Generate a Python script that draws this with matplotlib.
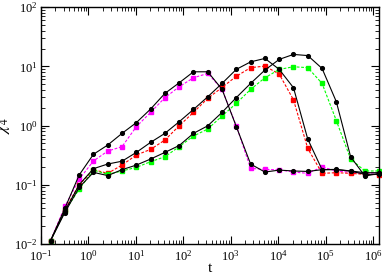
import numpy as np
import matplotlib
matplotlib.use('Agg')
import matplotlib.pyplot as plt

# tempos: t = 0.01 * 2^k, k = 4..27
t = 0.01 * 2.0 ** np.arange(4, 28)

# par 1 (preto + magenta)
preto1 = [0.0114, 0.040, 0.146, 0.327, 0.469, 0.738, 1.12, 1.90, 3.49, 5.27, 8.09, 8.09,
          4.1, 0.96, 0.224, 0.164, 0.177, 0.171, 0.168, 0.18, 0.18, 0.17, 0.15, 0.15]
magenta1 = [0.0114, 0.043, 0.124, 0.252, 0.371, 0.44, 0.955, 1.67, 2.95, 4.52, 6.41, 7.60,
            4.1, 0.99, 0.189, 0.182, 0.179, 0.164, 0.156, 0.20, 0.171, 0.162, 0.156, 0.16]

# par 2 (preto + vermelho)
preto2 = [0.0114, 0.036, 0.10, 0.187, 0.224, 0.25, 0.352, 0.520, 0.738, 1.16, 1.87, 3.06,
          5.15, 8.9, 11.9, 13.6, 8.9, 4.35, 0.59, 0.18, 0.182, 0.171, 0.16, 0.16]
vermelho2 = [0.0114, 0.038, 0.100, 0.18, 0.156, 0.215, 0.318, 0.396, 0.569, 0.99, 1.67, 2.88,
             4.4, 6.8, 9.5, 10.1, 7.4, 2.72, 0.41, 0.156, 0.160, 0.156, 0.15, 0.148]

# par 3 (preto + verde)
preto3 = [0.0114, 0.034, 0.09, 0.162, 0.143, 0.18, 0.215, 0.272, 0.352, 0.46, 0.738, 0.99,
          1.67, 2.97, 5.15, 8.65, 13.1, 15.9, 15.2, 9.22, 2.52, 0.297, 0.140, 0.156]
verde3 = [0.0114, 0.036, 0.084, 0.177, 0.150, 0.171, 0.197, 0.245, 0.297, 0.44, 0.665, 0.873,
          1.45, 2.37, 4.08, 6.41, 8.87, 9.84, 9.5, 5.15, 1.21, 0.272, 0.171, 0.171]

plt.rcParams['font.family'] = ['Liberation Serif', 'DejaVu Serif']
plt.rcParams['mathtext.fontset'] = 'stix'

fig = plt.figure(figsize=(3.82, 2.74), dpi=100)
ax = fig.add_axes([0.107, 0.1095, 0.884, 0.8645])

# linhas coloridas tracejadas com quadrados
for y, cor in [(magenta1, '#ff00ff'), (vermelho2, '#ff0000'), (verde3, '#00ff00')]:
    ax.plot(t, y, color=cor, ls=(0, (2.5, 1.5)), lw=0.8, marker='s', ms=2.6,
            mec=cor, mfc=cor, clip_on=False, zorder=2)

# linhas pretas com circulos
for y in [preto1, preto2, preto3]:
    ax.plot(t, y, color='black', ls='-', lw=0.8, marker='o', ms=2.7,
            clip_on=False, zorder=3)

ax.set_xscale('log')
ax.set_yscale('log')
ax.set_xlim(0.1, 1.3e6)
ax.set_ylim(1e-2, 1e2)

ax.xaxis.set_major_locator(matplotlib.ticker.LogLocator(base=10, numticks=20))
ax.xaxis.set_minor_locator(matplotlib.ticker.LogLocator(base=10, subs=np.arange(2, 10), numticks=20))
ax.xaxis.set_minor_formatter(matplotlib.ticker.NullFormatter())

ax.tick_params(which='both', direction='in', top=True, right=True, labelsize=9)
ax.tick_params(which='major', length=6, width=0.8)
ax.tick_params(which='minor', length=3, width=0.6)
ax.tick_params(axis='y', pad=2.5)
for s in ax.spines.values():
    s.set_linewidth(1.0)

ax.set_xlabel('t', fontsize=11, labelpad=-1)
ax.set_ylabel(r'$\chi_4$', fontsize=12)
ax.yaxis.set_label_coords(-0.085, 0.5)

fig.savefig('out.png', dpi=100)
